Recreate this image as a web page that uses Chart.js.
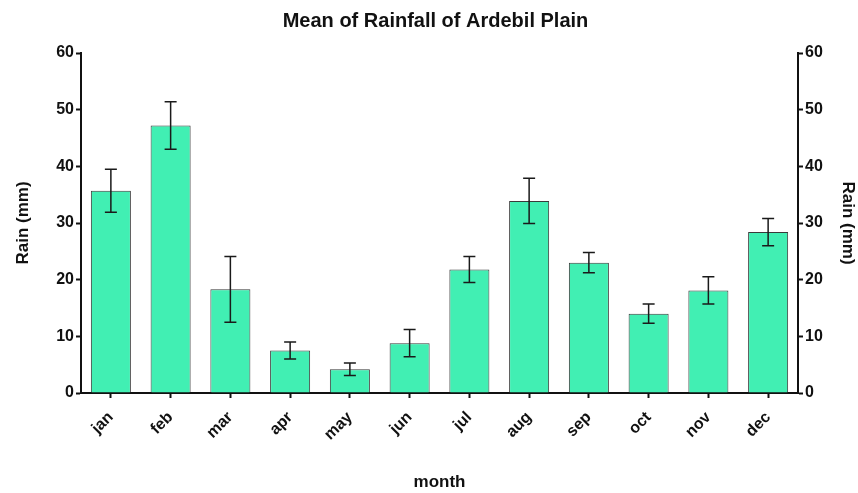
<!DOCTYPE html>
<html>
<head>
<meta charset="utf-8">
<script src="https://cdn.jsdelivr.net/npm/chart.js@4"></script>
<style>
  html, body { margin: 0; padding: 0; background: #fff; }
  #wrap { width: 858px; height: 493px; }
</style>
</head>
<body>
<div id="wrap"><canvas id="chart" width="858" height="493"></canvas></div>
<script>
const months = ['jan', 'feb', 'mar', 'apr', 'may', 'jun', 'jul', 'aug', 'sep', 'oct', 'nov', 'dec'];
const rainMean = [35.7, 47.2, 18.3, 7.5, 4.2, 8.8, 21.8, 33.9, 23.0, 14.0, 18.1, 28.4];
const rainErr = [3.8, 4.2, 5.8, 1.5, 1.1, 2.4, 2.3, 4.0, 1.8, 1.7, 2.4, 2.4];
const yTicks = [0, 10, 20, 30, 40, 50, 60];

const FONT = 'Arial, "Liberation Sans", sans-serif';
const INK = '#111';

// error bars drawn on top of the bars
const errorBars = {
  id: 'errorBars',
  afterDatasetsDraw(chart) {
    const { ctx } = chart;
    const y = chart.scales.y;
    const meta = chart.getDatasetMeta(0);
    ctx.save();
    ctx.strokeStyle = '#1a1a1a';
    ctx.lineWidth = 1.5;
    meta.data.forEach((bar, i) => {
      const top = y.getPixelForValue(rainMean[i] + rainErr[i]);
      const bot = y.getPixelForValue(rainMean[i] - rainErr[i]);
      const cap = 6;
      ctx.beginPath();
      ctx.moveTo(bar.x, top);
      ctx.lineTo(bar.x, bot);
      ctx.moveTo(bar.x - cap, top);
      ctx.lineTo(bar.x + cap, top);
      ctx.moveTo(bar.x - cap, bot);
      ctx.lineTo(bar.x + cap, bot);
      ctx.stroke();
    });
    ctx.restore();
  },
};

const yAxis = (position, width) => ({
  type: 'linear',
  position,
  min: 0,
  max: 60,
  afterBuildTicks(scale) {
    scale.ticks = yTicks.map((v) => ({ value: v }));
  },
  afterFit(scale) {
    scale.width = width;
  },
  grid: {
    drawOnChartArea: false,
    drawTicks: true,
    tickLength: 5,
    tickColor: INK,
    tickWidth: 2,
  },
  border: { color: INK, width: 2 },
  ticks: {
    color: INK,
    padding: 2,
    font: { family: FONT, size: 16, weight: 'bold' },
  },
  title: {
    display: true,
    text: 'Rain (mm)',
    color: INK,
    padding: { top: 0, bottom: 4 },
    font: { family: FONT, size: 17, weight: 'bold' },
  },
});

new Chart(document.getElementById('chart'), {
  type: 'bar',
  data: {
    labels: months,
    datasets: [{
      data: rainMean,
      backgroundColor: '#41efb3',
      borderColor: '#3a3a3a',
      borderWidth: 1,
      barPercentage: 0.67,
      categoryPercentage: 1,
    }],
  },
  options: {
    responsive: false,
    animation: false,
    layout: { padding: { left: 13, right: 0, top: 0, bottom: 0 } },
    plugins: {
      legend: { display: false },
      tooltip: { enabled: false },
      title: {
        display: true,
        text: 'Mean of Rainfall of Ardebil Plain',
        color: INK,
        font: { family: FONT, size: 20, weight: 'bold' },
        padding: { top: 9, bottom: 20 },
      },
    },
    scales: {
      x: {
        offset: true,
        afterFit(scale) {
          scale.height = 100;
        },
        grid: {
          offset: false,
          drawOnChartArea: false,
          tickLength: 5,
          tickColor: INK,
          tickWidth: 2,
        },
        border: { color: INK, width: 2 },
        ticks: {
          color: INK,
          minRotation: 45,
          maxRotation: 45,
          padding: 10,
          font: { family: FONT, size: 16, weight: 'bold' },
        },
        title: {
          display: true,
          text: 'month',
          color: INK,
          padding: { top: 0, bottom: 0 },
          font: { family: FONT, size: 17, weight: 'bold' },
        },
      },
      y: yAxis('left', 68),
      y2: yAxis('right', 60),
    },
  },
  plugins: [errorBars],
});
</script>
</body>
</html>
